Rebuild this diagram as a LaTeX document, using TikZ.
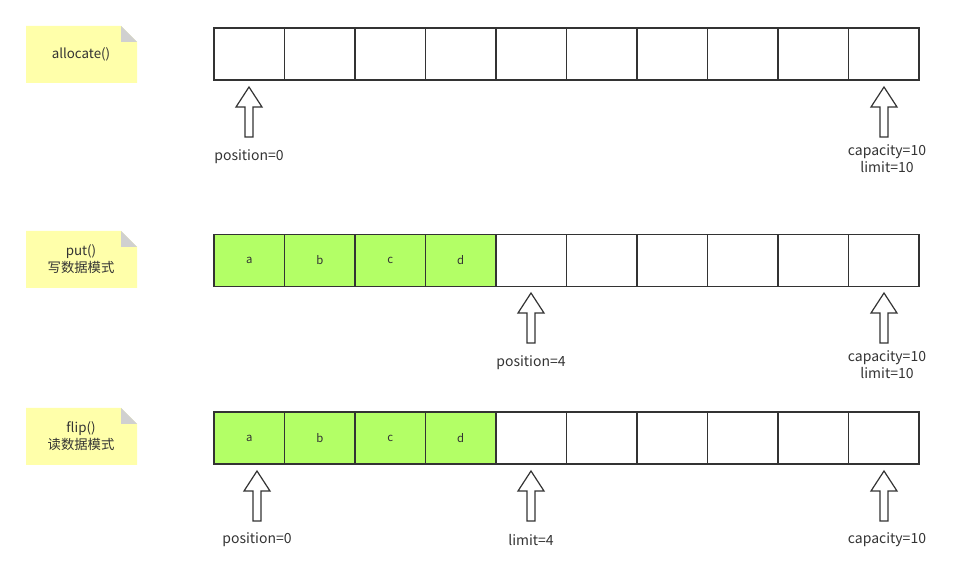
\documentclass[tikz,border=0pt]{standalone}
\usepackage{fontspec}
\setmainfont{Noto Sans CJK SC}
\usetikzlibrary{calc}

\definecolor{notefill}{HTML}{FFFFAA}
\definecolor{notefold}{HTML}{D0D0D0}
\definecolor{cellgreen}{HTML}{B3FF66}
\definecolor{inkgrey}{HTML}{333333}

\tikzset{
  cell/.style={draw=inkgrey, line width=1.1pt, minimum width=52.875pt, minimum height=39pt, inner sep=0pt, font=\fontsize{8.5}{9}\selectfont, text=inkgrey},
  full/.style={cell, fill=cellgreen},
  lbl/.style={inner sep=0pt, align=center, font=\fontsize{10.5}{12.5}\selectfont, text=inkgrey},
  notetext/.style={inner sep=0pt, align=center, font=\fontsize{10}{12.5}\selectfont, text=inkgrey},
  pics/uparrow/.style={code={
    \draw[draw=inkgrey, line width=0.9pt, fill=white]
      (-4,50) -- (-4,20) -- (-13,20) -- (0,0) -- (13,20) -- (4,20) -- (4,50) -- cycle;
  }},
  pics/note/.style={code={
    \fill[notefill] (0,0) -- (95,0) -- (111,16) -- (111,57) -- (0,57) -- cycle;
    \fill[notefold] (95,0) -- (111,16) -- (95,16) -- cycle;
  }}
}

\begin{document}
\begin{tikzpicture}[x=0.75pt, y=-0.75pt]
    % Canvas
    \useasboundingbox (0,0) rectangle (972,584);

    % Notes on the left
    \pic at (26,26) {note};
    \node[notetext] (n1) at (81,54) {allocate()};
    \pic at (26,231) {note};
    \node[notetext] (n2) at (81,259) {put()\\写数据模式};
    \pic at (26,408) {note};
    \node[notetext] (n3) at (81,436) {flip()\\读数据模式};

    % Row 1: empty buffer
    \foreach \i in {0,...,9}
      \node[cell] (a\i) at ({214+70.5*(\i+0.5)},54) {};
    % Row 2 and row 3: four bytes written
    \foreach \y/\r in {260.5/b, 438/c} {
      \foreach \i in {0,...,9}
        \node[cell] (\r\i) at ({214+70.5*(\i+0.5)},\y) {};
      \foreach \i/\t in {0/a, 1/b, 2/c, 3/d}
        \node[full] (\r\i) at ({214+70.5*(\i+0.5)},\y) {\t};
    }

    % Pointers, row 1
    \pic at (249,87) {uparrow};
    \node[lbl] (pos1) at (249,157) {position=0};
    \pic at (884,87) {uparrow};
    \node[lbl] (cap1) at (887,159) {capacity=10\\limit=10};

    % Pointers, row 2
    \pic at (531,293) {uparrow};
    \node[lbl] (pos2) at (531,363) {position=4};
    \pic at (884,293) {uparrow};
    \node[lbl] (cap2) at (887,365) {capacity=10\\limit=10};

    % Pointers, row 3
    \pic at (257,471) {uparrow};
    \node[lbl] (pos3) at (257,540) {position=0};
    \pic at (531,471) {uparrow};
    \node[lbl] (lim3) at (531,540) {limit=4};
    \pic at (884,471) {uparrow};
    \node[lbl] (cap3) at (887,540) {capacity=10};
\end{tikzpicture}
\end{document}
